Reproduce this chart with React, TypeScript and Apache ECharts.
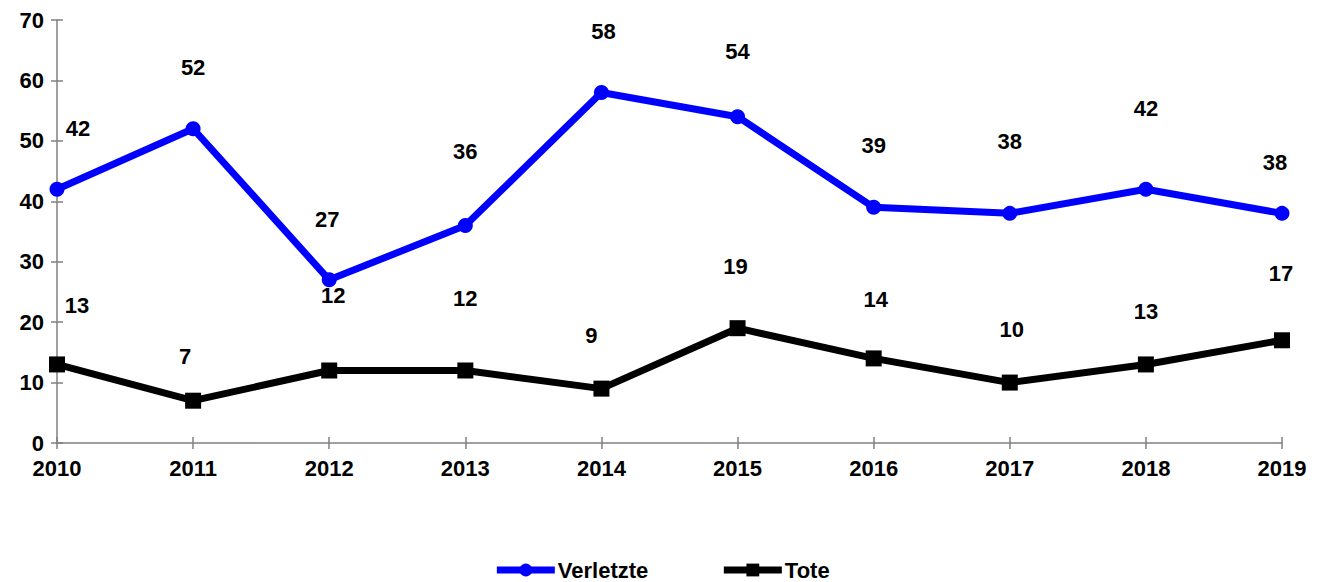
import React, { useEffect, useRef } from "react";
import * as echarts from "echarts";

const years = ["2010", "2011", "2012", "2013", "2014", "2015", "2016", "2017", "2018", "2019"];
const verletzte = [42, 52, 27, 36, 58, 54, 39, 38, 42, 38];
const tote = [13, 7, 12, 12, 9, 19, 14, 10, 13, 17];
const yTicks = [0, 10, 20, 30, 40, 50, 60, 70];

// label placement (dx, dy in px relative to the point)
const verletzteLabelOffsets: [number, number][] = [
  [21, -61], [0, -61], [-2, -60], [0, -74], [2, -61], [0, -65], [0, -62], [0, -72], [0, -81], [-7, -51],
];
const toteLabelOffsets: [number, number][] = [
  [20, -59], [-8, -44], [4, -75], [0, -72], [-10, -53], [-2, -62], [2, -59], [2, -53], [0, -53], [-1, -67],
];

const FONT = 'Arial, "Liberation Sans", sans-serif';
const FS = 22;

export default function App() {
  const ref = useRef<HTMLDivElement>(null);
  useEffect(() => {
    if (!ref.current) return;
    const chart = echarts.init(ref.current, null, { renderer: "svg" });
    const axisColor = "#808080";
    const mk = (vals: number[], offs: [number, number][]) =>
      vals.map((v, i) => ({
        value: v,
        label: { offset: offs[i] },
      }));
    const lbl = {
      show: true,
      position: "inside",
      color: "#000",
      fontWeight: "bold",
      fontSize: FS,
      fontFamily: FONT,
    };
    chart.setOption({
      animation: false,
      textStyle: { fontFamily: FONT },
      grid: { left: 57, right: 41, top: 20, bottom: 139 },
      legend: {
        top: 559,
        left: "center",
        padding: [0, 5],
        itemWidth: 58,
        itemHeight: 16,
        itemGap: 72,
        lineStyle: { width: 7 },
        textStyle: { fontFamily: FONT, fontWeight: "bold", fontSize: FS, color: "#000", padding: [0, 0, 0, -2] },
        data: ["Verletzte", "Tote"],
      },
      xAxis: [
        {
          type: "category",
          data: years,
          boundaryGap: false,
          axisLine: { lineStyle: { color: axisColor, width: 1.5 } },
          axisTick: { show: true, length: 6, lineStyle: { color: axisColor, width: 1.5 }, alignWithLabel: true },
          axisLabel: { color: "#000", fontWeight: "bold", fontSize: FS, fontFamily: FONT, margin: 14 },
        },
        {
          type: "category",
          data: years,
          boundaryGap: false,
          position: "bottom",
          offset: 0,
          axisLine: { show: false },
          axisTick: { show: true, inside: true, length: 6, lineStyle: { color: axisColor, width: 1.5 } },
          axisLabel: { show: false },
        },
      ],
      yAxis: [
        {
          type: "value",
          min: yTicks[0],
          max: yTicks[yTicks.length - 1],
          interval: 10,
          splitLine: { show: false },
          axisLine: { show: true, lineStyle: { color: axisColor, width: 1.5 } },
          axisTick: { show: true, length: 6, lineStyle: { color: axisColor, width: 1.5 } },
          axisLabel: { color: "#000", fontWeight: "bold", fontSize: FS, fontFamily: FONT, margin: 13 },
        },
        {
          type: "value",
          min: yTicks[0],
          max: yTicks[yTicks.length - 1],
          interval: 10,
          position: "left",
          offset: 0,
          splitLine: { show: false },
          axisLine: { show: false },
          axisTick: { show: true, inside: true, length: 6, lineStyle: { color: axisColor, width: 1.5 } },
          axisLabel: { show: false },
        },
      ],
      series: [
        {
          name: "Verletzte",
          type: "line",
          data: mk(verletzte, verletzteLabelOffsets),
          color: "#0000ff",
          symbol: "circle",
          symbolSize: 15,
          lineStyle: { width: 7, color: "#0000ff" },
          itemStyle: { color: "#0000ff" },
          label: lbl,
          z: 3,
        },
        {
          name: "Tote",
          type: "line",
          data: mk(tote, toteLabelOffsets),
          color: "#000000",
          symbol: "rect",
          symbolSize: 16,
          lineStyle: { width: 7, color: "#000" },
          itemStyle: { color: "#000" },
          label: lbl,
          z: 3,
        },
      ],
    });
    return () => chart.dispose();
  }, []);
  return <div ref={ref} style={{ position: "absolute", left: 0, top: 0, width: 1323, height: 582 }} />;
}
